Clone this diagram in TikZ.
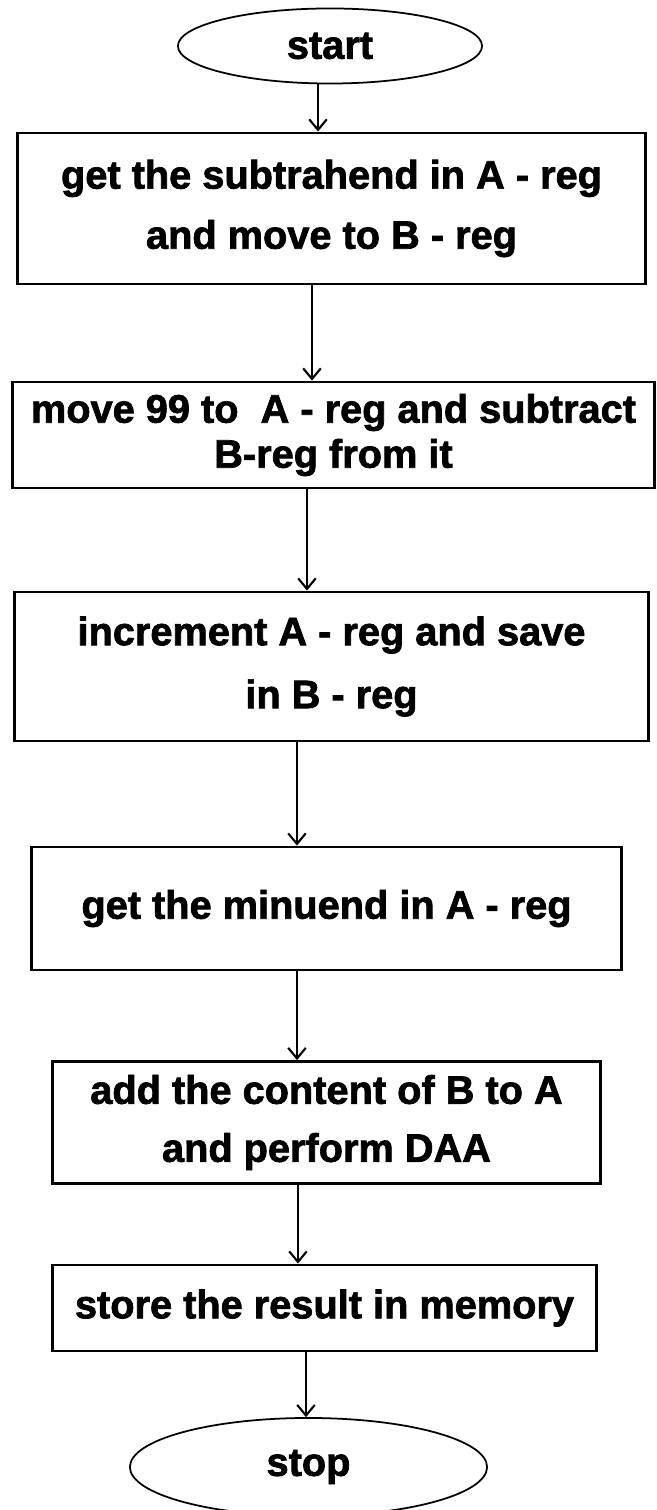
\documentclass[tikz,border=0pt]{standalone}
\usepackage{fontspec}
\newfontfamily\chartfont{Liberation Sans Bold}[FakeBold=1.8]
\usetikzlibrary{shapes.geometric,arrows.meta}

\tikzset{
  terminal/.style={draw, ellipse, line width=0.5pt, inner sep=0pt},
  process/.style={draw, rectangle, line width=0.8pt, inner sep=0pt, align=center},
  arr/.style={line width=0.6pt, -{Straight Barb[length=3pt,width=5pt]}},
}

\begin{document}
\begin{tikzpicture}[x=0.01cm,y=-0.01cm,font=\chartfont\fontsize{11.3}{13.5}\selectfont]
  \path[use as bounding box, fill=white] (0,0) rectangle (656,1510);

  % flow of the bcd subtraction, top to bottom
  \node[terminal, minimum width=3.04cm, minimum height=0.75cm] (start) at (330,46) {start};
  \node[process, minimum width=6.27cm, minimum height=1.51cm] (sub) at (331.5,208.5)
    {get the subtrahend in A - reg\\[3.6pt] and move to B - reg};
  \node[process, minimum width=6.41cm, minimum height=1.06cm] (move) at (333.5,435)
    {move 99 to \ A - reg and subtract\\[-0.7pt] B-reg from it};
  \node[process, minimum width=6.33cm, minimum height=1.49cm] (inc) at (331.5,666.5)
    {increment A - reg and save\\[4.4pt] in B - reg};
  \node[process, minimum width=5.89cm, minimum height=1.23cm] (minu) at (326.5,908.5)
    {get the minuend in A - reg};
  \node[process, minimum width=5.47cm, minimum height=1.22cm] (add) at (326.5,1122.5)
    {add the content of B to A\\[3pt] and perform DAA};
  \node[process, minimum width=5.43cm, minimum height=0.86cm] (store) at (324.5,1308)
    {store the result in memory};
  \node[terminal, minimum width=3.57cm, minimum height=0.98cm] (stop) at (308.5,1467) {stop};

  % connectors
  \draw[arr] ([xshift=-0.12cm]start.south) -- ([xshift=-0.12cm]start.south |- sub.north);
  \draw[arr] ([xshift=-0.195cm]sub.south) -- ([xshift=-0.195cm]sub.south |- move.north);
  \draw[arr] ([xshift=-0.265cm]move.south) -- ([xshift=-0.265cm]move.south |- inc.north);
  \draw[arr] ([xshift=-0.345cm]inc.south) -- ([xshift=-0.345cm]inc.south |- minu.north);
  \draw[arr] ([xshift=-0.295cm]minu.south) -- ([xshift=-0.295cm]minu.south |- add.north);
  \draw[arr] ([xshift=-0.285cm]add.south) -- ([xshift=-0.285cm]add.south |- store.north);
  \draw[arr] ([xshift=-0.185cm]store.south) -- ([xshift=-0.185cm]store.south |- stop.north);
\end{tikzpicture}
\end{document}
